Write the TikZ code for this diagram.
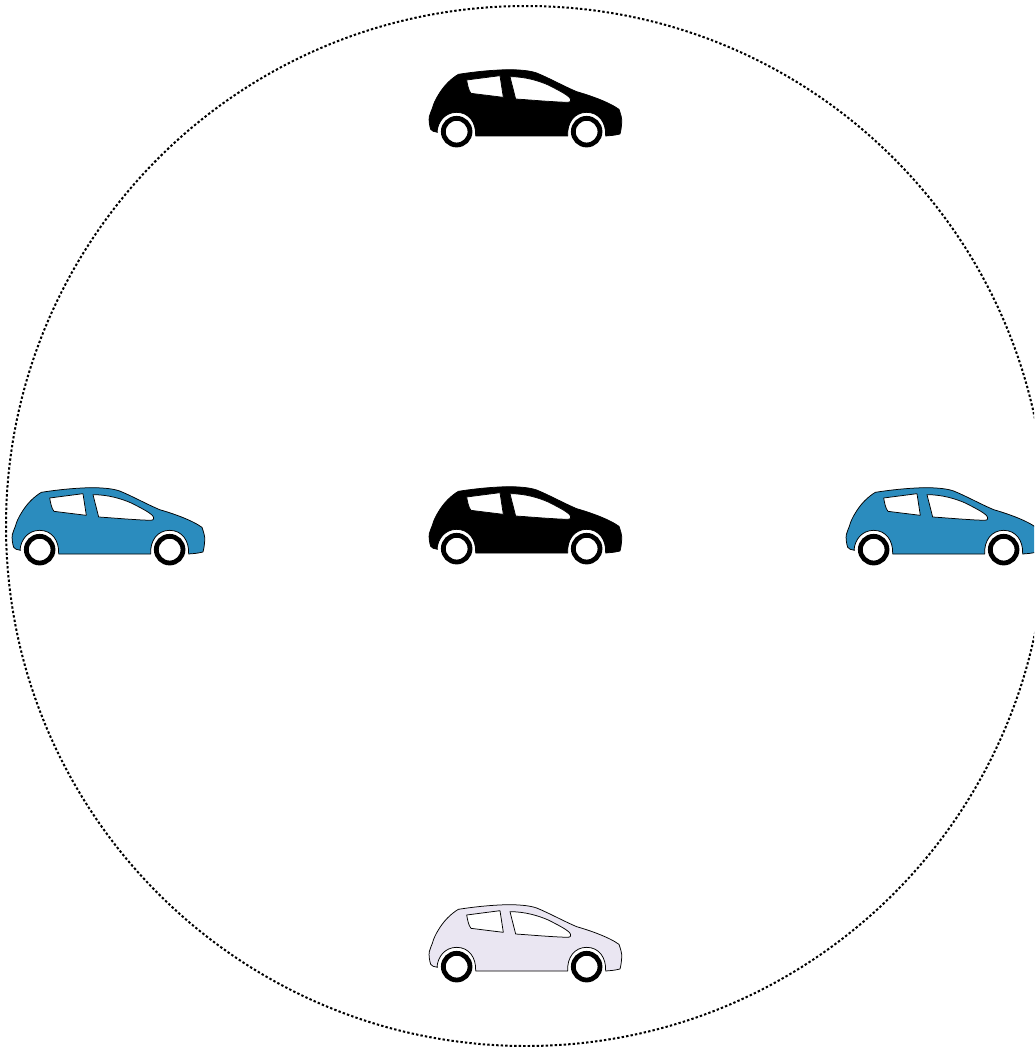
\documentclass[tikz,border=0pt]{standalone}
\definecolor{carblue}{HTML}{2B8CBE}
\definecolor{carlilac}{HTML}{EAE6F2}
\tikzset{
  ringline/.style={draw=black,line width=2pt,dash pattern=on 2.4pt off 2.1pt},
  carbody/.style={draw=black,line width=.75pt,line join=round},
  carglass/.style={draw=black,fill=white,line width=.75pt,line join=round},
  carwheel/.style={draw=black,fill=white,line width=4.8pt}
}
% #1 dx, #2 dy, #3 body colour. Local units: one third of a pixel, y downward
\newcommand{\carat}[3]{%
\begin{scope}[shift={(415+#1,895+#2)},x=.3333pt,y=-.3333pt]
  \path[carbody,fill=#3]
    (68,217) .. controls (58,216) and (50,213) .. (47,208)
    .. controls (43,195) and (41,180) .. (43,170)
    .. controls (45,160) and (50,152) .. (52,145)
    .. controls (56,130) and (62,118) .. (70,105)
    .. controls (85,80) and (105,58) .. (130,43)
    .. controls (180,35) and (240,29) .. (290,29)
    .. controls (320,30) and (345,32) .. (365,39)
    .. controls (400,53) and (445,78) .. (485,95)
    .. controls (520,105) and (580,125) .. (612,148)
    .. controls (616,160) and (622,175) .. (620,190)
    .. controls (619,205) and (617,215) .. (615,222)
    .. controls (600,226) and (585,227) .. (572,228)
    .. controls (574,188) and (552,157) .. (515,157)
    .. controls (478,157) and (456,188) .. (458,228)
    -- (182,228)
    .. controls (184,188) and (162,157) .. (125,157)
    .. controls (90,157) and (68,185) .. (66,217) -- cycle;
  \path[carglass] (155,60) -- (255,47) -- (265,112) -- (168,100)
    .. controls (160,90) and (158,75) .. (155,60) -- cycle;
  \path[carglass] (285,50) .. controls (330,50) and (370,62) .. (400,75)
    .. controls (425,88) and (450,100) .. (463,112)
    .. controls (470,120) and (468,127) .. (458,127)
    .. controls (400,125) and (350,120) .. (302,117) -- cycle;
  \path[carwheel] (125,215) circle[radius=40];
  \path[carwheel] (515,215) circle[radius=40];
\end{scope}}
\begin{document}
\begin{tikzpicture}[x=1pt,y=-1pt]
  \useasboundingbox (0,0) rectangle (1034,1047);
  \fill[white] (0,0) rectangle (1034,1047);
  \clip (0,0) rectangle (1034,1047);
  \path[ringline] (526,526) circle[radius=520pt];
  \carat{0}{-835}{black}
  \carat{0}{-418}{black}
  \carat{-417}{-417}{carblue}
  \carat{417}{-417}{carblue}
  \carat{0}{0}{carlilac}
\end{tikzpicture}
\end{document}
